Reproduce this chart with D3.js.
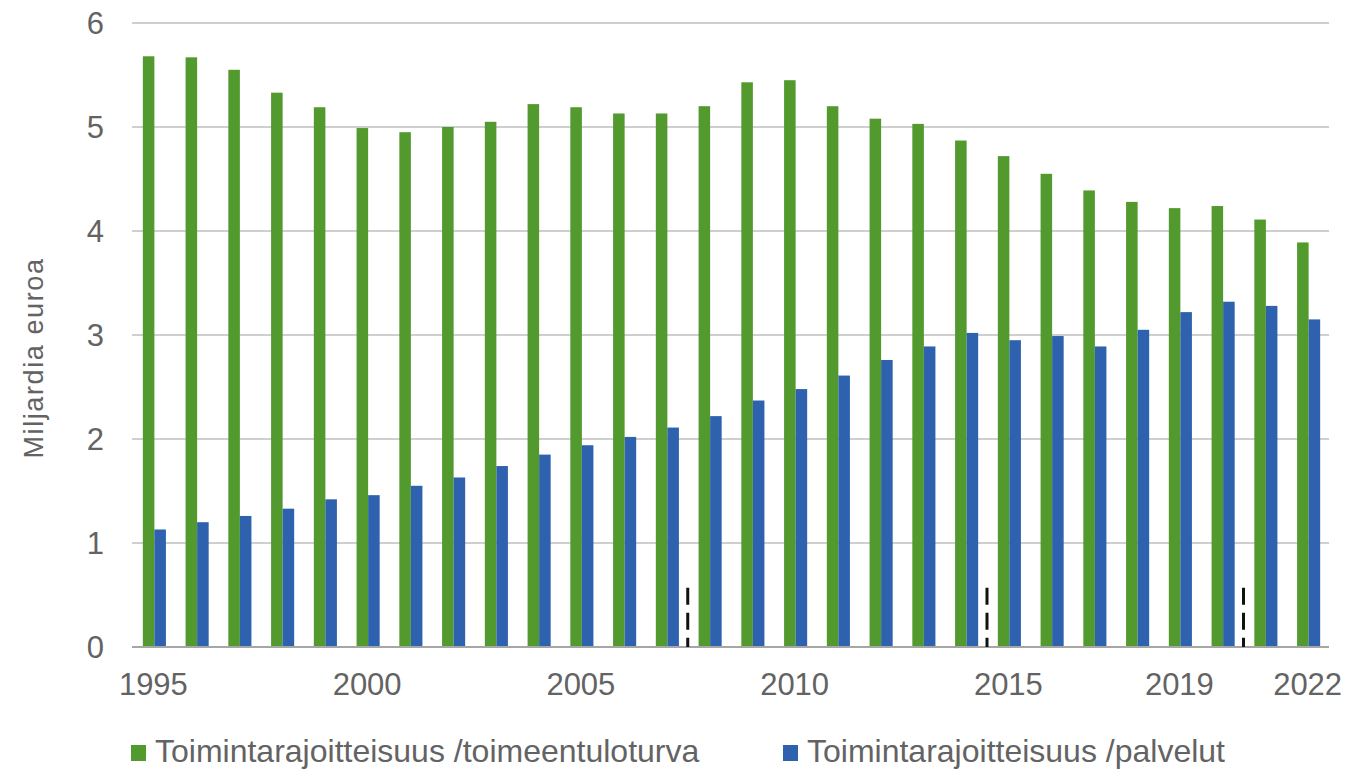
<!DOCTYPE html>
<html>
<head>
<meta charset="utf-8">
<script src="https://cdn.jsdelivr.net/npm/d3@7"></script>
<style>
  body { margin: 0; background: #fff; }
  text { font-family: "Liberation Sans", Arial, sans-serif; fill: #636363; }
</style>
</head>
<body>
<div id="chart"></div>
<script>
const years = d3.range(1995, 2023);
const labelYears = [1995, 2000, 2005, 2010, 2015, 2019, 2022];
const seriesNames = ["Toimintarajoitteisuus /toimeentuloturva", "Toimintarajoitteisuus /palvelut"];
const toimeentuloturva = [5.68, 5.67, 5.55, 5.33, 5.19, 4.99, 4.95, 5.00, 5.05, 5.22,
  5.19, 5.13, 5.13, 5.20, 5.43, 5.45, 5.20, 5.08, 5.03, 4.87,
  4.72, 4.55, 4.39, 4.28, 4.22, 4.24, 4.11, 3.89];
const palvelut = [1.13, 1.20, 1.26, 1.33, 1.42, 1.46, 1.55, 1.63, 1.74, 1.85,
  1.94, 2.02, 2.11, 2.22, 2.37, 2.48, 2.61, 2.76, 2.89, 3.02,
  2.95, 2.99, 2.89, 3.05, 3.22, 3.32, 3.28, 3.15];
const colors = ["#529A2E", "#2E62AE"];
const breakYears = [2008, 2015, 2021];
const breakHeight = 0.57;
const yTicks = [0, 1, 2, 3, 4, 5, 6];

const width = 1348, height = 771;
const svg = d3.select("#chart").append("svg")
  .attr("width", width)
  .attr("height", height);

const x = d3.scaleBand().domain(years).range([132, 1329]).padding(0);
const y = d3.scaleLinear().domain([0, 6]).range([647, 23]);
const groupW = x.bandwidth() * 0.54;
const xSub = d3.scaleBand().domain([0, 1])
  .range([(x.bandwidth() - groupW) / 2 + 1, (x.bandwidth() + groupW) / 2 + 1]);

// gridlines
svg.append("g")
  .selectAll("line")
  .data(yTicks.filter(d => d > 0))
  .enter()
  .append("line")
  .attr("x1", 132)
  .attr("x2", 1329)
  .attr("y1", d => y(d))
  .attr("y2", d => y(d))
  .attr("stroke", "#BFBFBF")
  .attr("stroke-width", 1.5);

// y labels
svg.append("g")
  .selectAll("text")
  .data(yTicks)
  .enter()
  .append("text")
  .attr("x", 104)
  .attr("y", d => y(d))
  .attr("dy", "0.36em")
  .attr("text-anchor", "end")
  .style("font-size", "31px")
  .text(d => d);

svg.append("text")
  .attr("transform", "translate(43,358) rotate(-90)")
  .attr("text-anchor", "middle")
  .style("font-size", "27px")
  .style("letter-spacing", "1.6px")
  .text("Miljardia euroa");

// bars
const rows = years.map((yr, i) => ({ year: yr, vals: [toimeentuloturva[i], palvelut[i]] }));
const groups = svg.append("g")
  .selectAll("g")
  .data(rows)
  .enter()
  .append("g")
  .attr("transform", d => `translate(${x(d.year)},0)`);

groups.selectAll("rect")
  .data(d => d.vals.map((v, k) => ({ k, v })))
  .enter()
  .append("rect")
  .attr("x", d => xSub(d.k))
  .attr("width", xSub.bandwidth())
  .attr("y", d => y(d.v))
  .attr("height", d => y(0) - y(d.v))
  .attr("fill", d => colors[d.k]);

// zero axis line
svg.append("line")
  .attr("x1", 132)
  .attr("x2", 1329)
  .attr("y1", y(0))
  .attr("y2", y(0))
  .attr("stroke", "#A6A6A6")
  .attr("stroke-width", 2);

// break markers
svg.append("g")
  .selectAll("line")
  .data(breakYears)
  .enter()
  .append("line")
  .attr("x1", d => x(d))
  .attr("x2", d => x(d))
  .attr("y1", y(breakHeight))
  .attr("y2", y(0))
  .attr("stroke", "#111")
  .attr("stroke-width", 3)
  .attr("stroke-dasharray", "17,8");

// x labels
svg.append("g")
  .selectAll("text")
  .data(labelYears)
  .enter()
  .append("text")
  .attr("x", d => x(d) + x.bandwidth() / 2)
  .attr("y", 695)
  .attr("text-anchor", "middle")
  .style("font-size", "31px")
  .text(d => d);

// legend
const legendX = [131, 783];
const legend = svg.append("g")
  .selectAll("g")
  .data(seriesNames)
  .enter()
  .append("g")
  .attr("transform", (d, i) => `translate(${legendX[i]},745)`);

legend.append("rect")
  .attr("width", 15)
  .attr("height", 16)
  .attr("fill", (d, i) => colors[i]);

legend.append("text")
  .attr("x", 24)
  .attr("y", 17)
  .style("font-size", "32px")
  .text(d => d);
</script>
</body>
</html>
